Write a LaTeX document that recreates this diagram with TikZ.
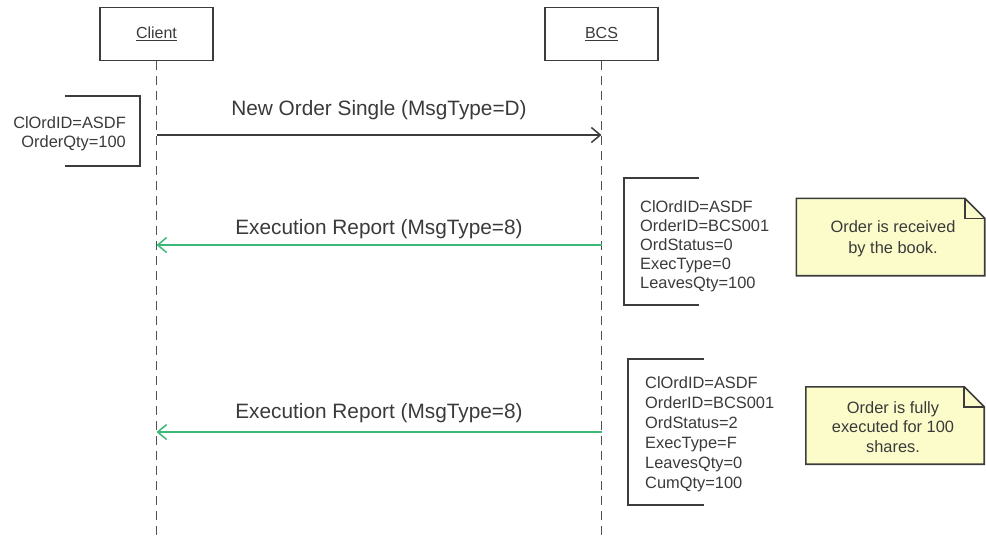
\documentclass[tikz,border=0pt]{standalone}
\usepackage{fontspec}
\setmainfont{Liberation Sans}
\usetikzlibrary{arrows.meta}
\definecolor{txt}{HTML}{3A3A3A}
\definecolor{ln}{HTML}{3C3C3C}
\definecolor{lifec}{HTML}{505050}
\definecolor{grn}{HTML}{3CB878}
\definecolor{notefill}{HTML}{FCFCCB}
\begin{document}
\begin{tikzpicture}[x=1pt,y=-1pt,
  actor/.style={draw=ln,line width=1.8pt,minimum width=113pt,minimum height=53pt,inner sep=0,font=\fontsize{16}{18}\selectfont,text=txt},
  life/.style={draw=lifec,line width=1.9pt,dash pattern=on 9pt off 6pt},
  msg/.style={line width=1.5pt,-{Straight Barb[length=9pt,width=15pt]}},
  lbl/.style={font=\fontsize{20.8}{23}\selectfont,text=txt,inner sep=0},
  info/.style={font=\fontsize{16.4}{19}\selectfont,text=txt,inner sep=0},
  brk/.style={draw=ln,line width=1.9pt},
  notebox/.style={minimum width=188pt,minimum height=77pt,inner sep=0,font=\fontsize{16.4}{20.5}\selectfont,text=txt,align=center},
  noteline/.style={draw=ln,line width=1.6pt}
]
\useasboundingbox (0,0) rectangle (986,536);

% actors
\node[actor] (client) at (156.5,34) {\underline{Client}};
\node[actor] (bcs) at (601.5,34) {\underline{BCS}};
\coordinate (clientend) at (156.5,536);
\coordinate (bcsend) at (601.5,536);
\draw[life] (client.south) -- (clientend);
\draw[life] (bcs.south) -- (bcsend);

% message anchors
\coordinate (c1) at (156.5,135);
\coordinate (b1) at (601.5,135);
\coordinate (c2) at (156.5,245);
\coordinate (b2) at (601.5,245);
\coordinate (c3) at (156.5,432);
\coordinate (b3) at (601.5,432);

% message 1
\draw[msg,draw=ln] (c1) -- (b1);
\node[lbl] (l1) at (379,110) {New Order Single (MsgType=D)};
% message 2
\draw[msg,draw=grn] (b2) -- (c2);
\node[lbl] (l2) at (379,229) {Execution Report (MsgType=8)};
% message 3
\draw[msg,draw=grn] (b3) -- (c3);
\node[lbl] (l3) at (379,413) {Execution Report (MsgType=8)};

% left bracket
\draw[brk] (65,96) -- (140,96) -- (140,166) -- (65,166);
\node[info,align=right,anchor=east] (i1) at (126,134) {ClOrdID=ASDF\\OrderQty=100};

% bracket 2
\draw[brk] (699,178) -- (624,178) -- (624,305) -- (699,305);
\node[info,align=left,anchor=west] (i2) at (640,246) {ClOrdID=ASDF\\OrderID=BCS001\\OrdStatus=0\\ExecType=0\\LeavesQty=100};

% bracket 3
\draw[brk] (704,359) -- (628,359) -- (628,505) -- (704,505);
\node[info,align=left,anchor=west,font=\fontsize{16.4}{20}\selectfont] (i3) at (645,434) {ClOrdID=ASDF\\OrderID=BCS001\\OrdStatus=2\\ExecType=F\\LeavesQty=0\\CumQty=100};

% note 1
\node[notebox] (n1) at (890.5,237) {};
\fill[notefill] (n1.south west) -- (n1.north west) -- ([xshift=-20pt]n1.north east) -- ([yshift=-20pt]n1.north east) -- (n1.south east) -- cycle;
\draw[noteline] (n1.south west) -- (n1.north west) -- ([xshift=-20pt]n1.north east) -- ([yshift=-20pt]n1.north east) -- (n1.south east) -- cycle;
\draw[noteline] ([xshift=-20pt]n1.north east) -- ([xshift=-20pt,yshift=-20pt]n1.north east) -- ([yshift=-20pt]n1.north east);
\node[notebox,minimum width=0pt,minimum height=0pt] (t1) at (893,239) {Order is received\\by the book.};

% note 2
\node[notebox,minimum width=178pt] (n2) at (895,425.5) {};
\fill[notefill] (n2.south west) -- (n2.north west) -- ([xshift=-20pt]n2.north east) -- ([yshift=-20pt]n2.north east) -- (n2.south east) -- cycle;
\draw[noteline] (n2.south west) -- (n2.north west) -- ([xshift=-20pt]n2.north east) -- ([yshift=-20pt]n2.north east) -- (n2.south east) -- cycle;
\draw[noteline] ([xshift=-20pt]n2.north east) -- ([xshift=-20pt,yshift=-20pt]n2.north east) -- ([yshift=-20pt]n2.north east);
\node[notebox,minimum width=0pt,minimum height=0pt,font=\fontsize{16.4}{19.5}\selectfont] (t2) at (893,427) {Order is fully\\executed for 100\\shares.};
\end{tikzpicture}
\end{document}
